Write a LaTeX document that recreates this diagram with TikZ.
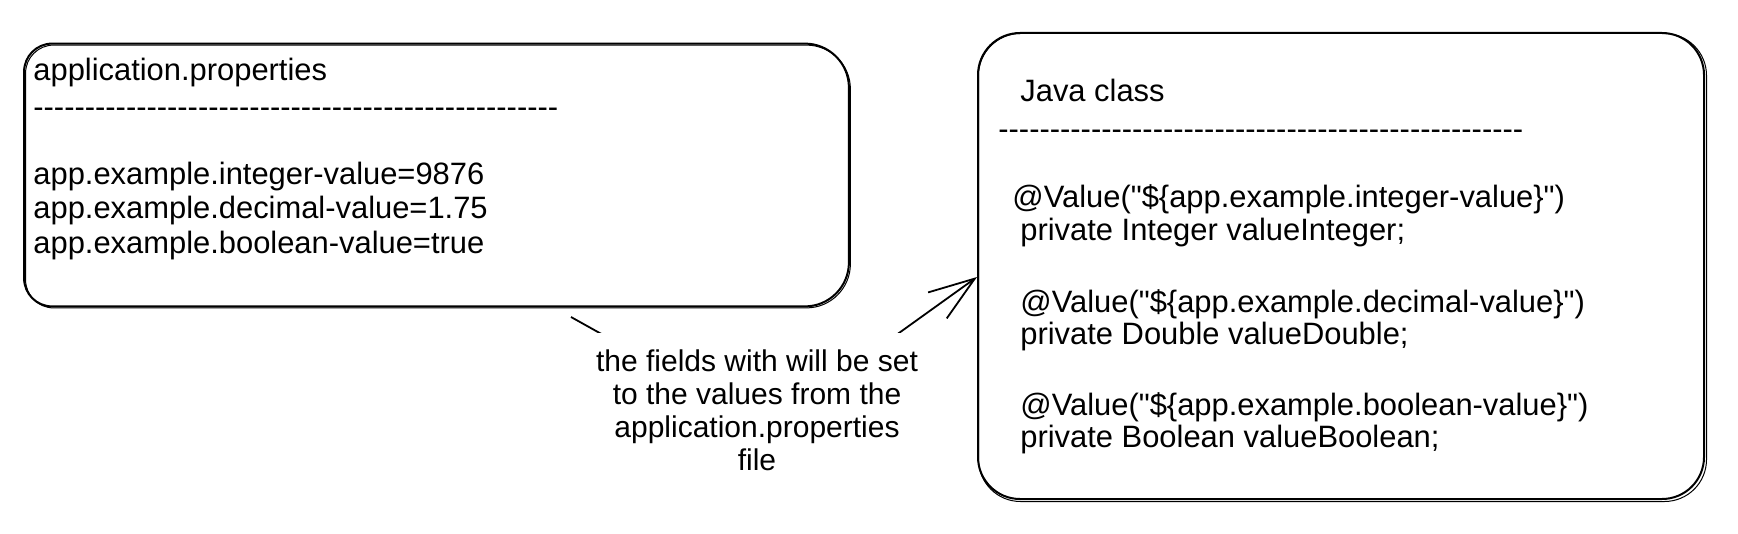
\documentclass[tikz,border=0pt]{standalone}
\usepackage{fontspec}
\setmainfont{Liberation Sans}[Ligatures=TeXOff]
\usetikzlibrary{arrows.meta}
\newcommand\dashrow{---------------------------------------------------}
\begin{document}
\begin{tikzpicture}[x=0.5pt,y=-0.5pt,
  box/.style={draw, line width=1pt, inner sep=0pt},
  outline/.style={line width=1pt},
  sketch/.style={line width=0.5pt},
  txt/.style={anchor=mid west, inner sep=0pt, font=\fontsize{15.45}{17.5}\selectfont},
  conn/.style={line width=0.9pt, -{Straight Barb[length=23pt,width=16pt]}},
  lbl/.style={fill=white, align=center, font=\fontsize{15}{16.5}\selectfont, inner xsep=2pt, inner ysep=8pt}]
\useasboundingbox (0,0) rectangle (1738,534);
% left box (corners of different radii, as sketched)
\node[inner sep=0pt, minimum width=412pt, minimum height=131pt] (leftbox) at (436.5,175) {};
\draw[outline] (leftbox.north) [rounded corners=22pt] -| (leftbox.east) |- (leftbox.south)
  [rounded corners=14pt] -| (leftbox.west) |- (leftbox.north);
\draw[sketch] ([shift={(1.5,1.5)}]leftbox.north) [rounded corners=22pt] -| ([shift={(1.5,1.5)}]leftbox.east) |- ([shift={(1.5,1.5)}]leftbox.south)
  [rounded corners=14pt] -| ([shift={(1.5,1.5)}]leftbox.west) |- ([shift={(1.5,1.5)}]leftbox.north);
% right box
\node[box, rounded corners=21pt, minimum width=363pt, minimum height=233pt] (rightbox) at (1341,266) {};
\draw[sketch, rounded corners=21pt] ([shift={(1.5,1.5)}]rightbox.north west) rectangle ([shift={(1.5,1.5)}]rightbox.south east);
% left texts
\node[txt] (l1) at (33,75) {application.properties};
\node[txt] (l2) at (33,112) {\dashrow};
\node[txt] (l3) at (33,179) {app.example.integer-value=9876};
\node[txt] (l4) at (33,213) {app.example.decimal-value=1.75};
\node[txt] (l5) at (33,248) {app.example.boolean-value=true};
% right texts
\node[txt] (r1) at (1020,96) {Java class};
\node[txt] (r2) at (998,134) {\dashrow};
\node[txt] (r3) at (1012,202) {@Value("\$\{app.example.integer-value\}")};
\node[txt] (r4) at (1020,235) {private Integer valueInteger;};
\node[txt] (r5) at (1020,307) {@Value("\$\{app.example.decimal-value\}")};
\node[txt] (r6) at (1020,339) {private Double valueDouble;};
\node[txt] (r7) at (1020,410) {@Value("\$\{app.example.boolean-value\}")};
\node[txt] (r8) at (1020,442) {private Boolean valueBoolean;};
% connector
\coordinate (cs) at (571,317);
\coordinate (bend) at (768,427);
\coordinate (ct) at (977,277);
\draw[conn] (cs) -- (bend) -- (ct);
\node[lbl] (label) at (757,410) {the fields with will be set\\to the values from the\\application.properties\\file};
\end{tikzpicture}
\end{document}
